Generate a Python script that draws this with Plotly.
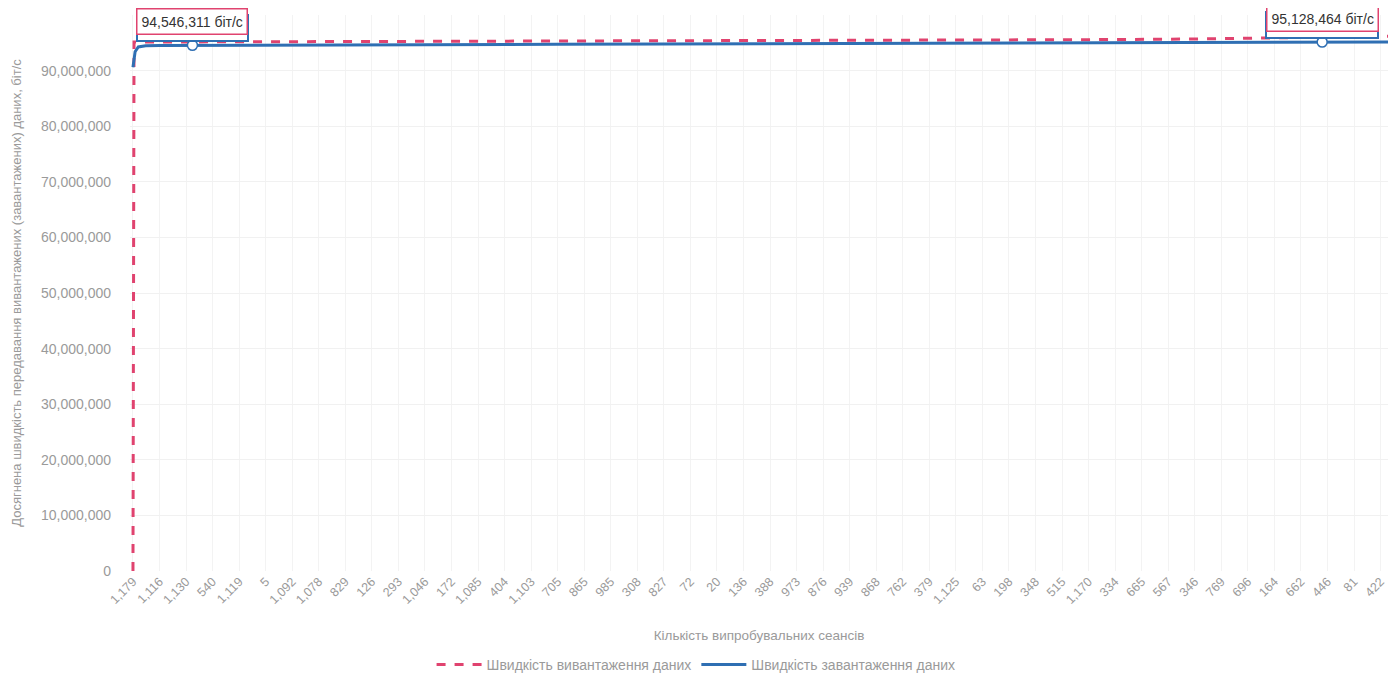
import plotly.graph_objects as go

# Session numbers shown as x tick labels (every 25th session in sorted order)
sessions = ["1,179", "1,116", "1,130", "540", "1,119", "5", "1,092", "1,078", "829", "126",
            "293", "1,046", "172", "1,085", "404", "1,103", "705", "865", "985", "308",
            "827", "72", "20", "136", "388", "973", "876", "939", "868", "762",
            "379", "1,125", "63", "198", "348", "515", "1,170", "334", "665", "567",
            "346", "769", "696", "164", "662", "446", "81", "422"]
label_step = 25  # sessions between consecutive labels

# Upload (вивантаження) speed, bit/s, at ranks in the sorted session order
upload_rank = [0, 1, 100, 200, 300, 400, 500, 600, 700, 800, 900, 1000, 1100, 1150, 1183]
upload_speed = [0, 95.14e6, 95.18e6, 95.22e6, 95.25e6, 95.29e6, 95.32e6, 95.35e6, 95.40e6,
                95.46e6, 95.56e6, 95.68e6, 95.90e6, 96.05e6, 96.2e6]

# Download (завантаження) speed, bit/s
download_rank = [0, 2, 5, 12, 25, 56, 100, 200, 300, 400, 500, 600, 700, 800, 900, 1000, 1100, 1120, 1183]
download_speed = [90.6e6, 93.4e6, 94.25e6, 94.48e6, 94.52e6, 94546311, 94.57e6, 94.62e6, 94.67e6,
                  94.72e6, 94.77e6, 94.81e6, 94.86e6, 94.91e6, 94.97e6, 95.03e6, 95.11e6, 95128464, 95.16e6]

annotated_pos = [5, 17]  # indices into download arrays

y_ticks = [0, 10e6, 20e6, 30e6, 40e6, 50e6, 60e6, 70e6, 80e6, 90e6]

RED = "#e0436f"
BLUE = "#2f6fb3"
GREY = "#9a9a9a"
FONT = "Liberation Sans"

fig = go.Figure()
fig.add_trace(go.Scatter(
    x=upload_rank, y=upload_speed, mode="lines",
    name="Швидкість вивантаження даних",
    line=dict(color=RED, width=3, dash="dash"),
))
fig.add_trace(go.Scatter(
    x=download_rank, y=download_speed, mode="lines",
    name="Швидкість завантаження даних",
    line=dict(color=BLUE, width=3),
))
fig.add_trace(go.Scatter(
    x=[download_rank[i] for i in annotated_pos],
    y=[download_speed[i] for i in annotated_pos],
    mode="markers", showlegend=False, hoverinfo="skip",
    marker=dict(size=10, color="white", line=dict(color=BLUE, width=1.5)),
))

for i in annotated_pos:
    txt = f"{download_speed[i]:,.0f} біт/с"
    fig.add_annotation(x=download_rank[i], y=download_speed[i], text=txt, showarrow=False,
                       yanchor="bottom", yshift=3, font=dict(size=14, color="rgba(0,0,0,0)",
                                                             family=FONT),
                       bordercolor=BLUE, borderwidth=2, borderpad=4, bgcolor="white")
    fig.add_annotation(x=download_rank[i], y=download_speed[i], text=txt, showarrow=False,
                       yanchor="bottom", yshift=10, font=dict(size=14, color="#333333",
                                                              family=FONT),
                       bordercolor=RED, borderwidth=1.5, borderpad=4, bgcolor="white")

tick_positions = [k * label_step for k in range(len(sessions))]

fig.update_layout(
    width=1380, height=665,
    margin=dict(l=122, r=0, t=7, b=102, autoexpand=False),
    plot_bgcolor="white", paper_bgcolor="white",
    font=dict(family=FONT, size=13, color=GREY),
    legend=dict(orientation="h", xref="container", yref="container",
                x=0.4986, xanchor="center", y=0.012, yanchor="middle",
                font=dict(size=14, color=GREY, family=FONT), itemwidth=45),
)
fig.update_xaxes(
    range=[-2.8, 1182], tickvals=tick_positions, ticktext=sessions,
    tickangle=-45, automargin=False, ticklabeloverflow="allow",
    tickfont=dict(size=12.5, color=GREY, family=FONT),
    showgrid=True, gridcolor="#f3f3f3", showline=False, zeroline=False,
    title=dict(text="Кількість випробувальних сеансів", font=dict(size=13.5, color=GREY, family=FONT),
               standoff=24),
)
fig.update_yaxes(
    range=[0, 100e6], tickvals=y_ticks, tickformat=",", automargin=False,
    tickfont=dict(size=14, color=GREY, family=FONT), ticklabelstandoff=18,
    showgrid=True, gridcolor="#f1f1f1", zeroline=False, showline=False,
    title=dict(text="Досягнена швидкість передавання вивантажених (завантажених) даних, біт/с",
               font=dict(size=13, color=GREY, family=FONT), standoff=16),
)

fig.write_html("out.html")
